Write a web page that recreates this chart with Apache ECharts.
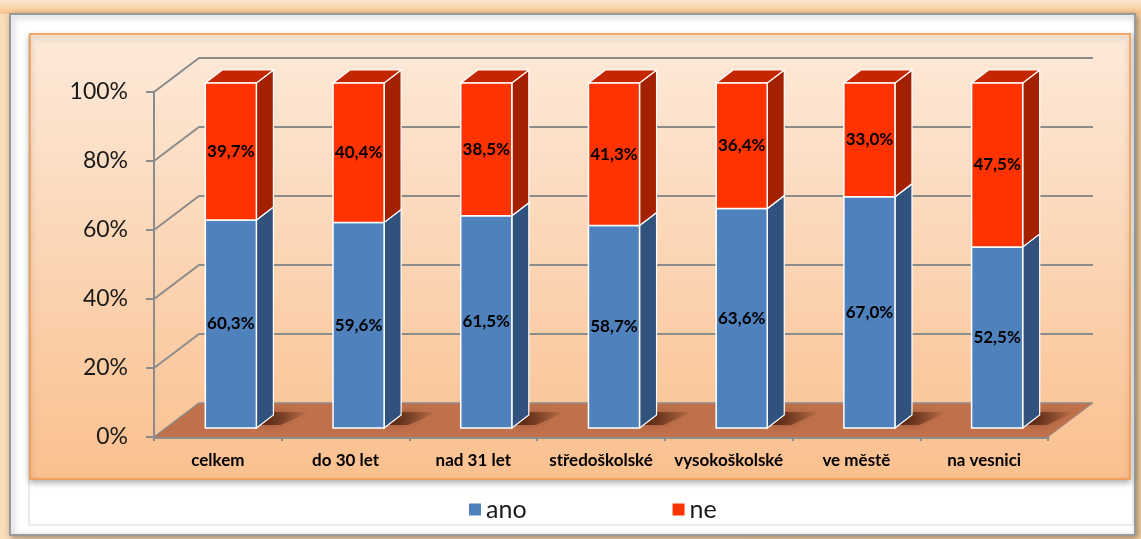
<!DOCTYPE html>
<html><head><meta charset="utf-8">
<script src="https://cdn.jsdelivr.net/npm/echarts@6/dist/echarts.min.js"></script>
<style>html,body{margin:0;padding:0;background:#fff}#c{width:1141px;height:539px}</style>
</head><body><div id="c"></div>
<script>
const categories = ['celkem','do 30 let','nad 31 let','středoškolské','vysokoškolské','ve městě','na vesnici'];
const ano = [60.3, 59.6, 61.5, 58.7, 63.6, 67.0, 52.5];
const ne  = [39.7, 40.4, 38.5, 41.3, 36.4, 33.0, 47.5];
const yTicks = [0, 20, 40, 60, 80, 100];

const FONT = 'Lato, "Open Sans", sans-serif';
const DX = 45, DY = -34;      // wall depth
const BX = 13, BY = -9;       // bar front-face offset into the depth
const BDX = 17, BDY = -13;    // bar depth
const GRID = '#8c8c8c';

function fmt(v){ return v.toFixed(1).replace('.', ',') + '%'; }

function wallItem(params, api){
  const cs = params.coordSys;
  const v = api.value(1);
  const y = api.coord([0, v])[1];
  if (v === 0) {
    return {type:'group', children:[
      {type:'polygon', shape:{points:[[cs.x,y],[cs.x+DX,y+DY],[cs.x+cs.width+DX,y+DY],[cs.x+cs.width,y]]},
        style:{fill:'#C0714B'}},
      {type:'polyline', shape:{points:[[cs.x,y],[cs.x+DX,y+DY],[cs.x+cs.width+DX,y+DY]]},
        style:{stroke:GRID, lineWidth:1.5, fill:null}},
      {type:'polyline', shape:{points:[[cs.x+cs.width,y],[cs.x+cs.width+DX,y+DY]]},
        style:{stroke:'#9a9a9a', lineWidth:1, fill:null}}
    ]};
  }
  return {type:'polyline', shape:{points:[[cs.x,y],[cs.x+DX,y+DY],[cs.x+cs.width+DX,y+DY]]},
    style:{stroke:GRID, lineWidth:2, fill:null}};
}

function barItem(front, side, top, isBottom){
  return function(params, api){
    const i = api.value(0), v = api.value(1), base = api.value(2);
    const c = api.coord([i, 0]);
    const w = api.size([1, 0])[0] * 0.4;
    const cx = c[0] + BX;
    const yb = api.coord([i, base])[1] + BY;
    const yt = api.coord([i, base + v])[1] + BY;
    const x0 = cx - w/2, x1 = cx + w/2;
    const ch = [];
    if (isBottom) {
      ch.push({type:'polygon', shape:{points:[[x1+2,yb-3],[x1+BDX,yb+BDY-3],[x1+BDX+36,yb+BDY-3],[x1+24,yb-3]]},
        style:{fill:new echarts.graphic.LinearGradient(0,0,1,0,[{offset:0,color:'rgba(50,15,0,0.75)'},{offset:1,color:'rgba(50,15,0,0)'}]),
          shadowBlur:8, shadowColor:'rgba(50,15,0,0.5)'}});
    }
    ch.push({type:'polygon', shape:{points:[[x1,yb],[x1,yt],[x1+BDX,yt+BDY],[x1+BDX,yb+BDY]]},
      style:{fill:side, stroke:'#ffffff', lineWidth:1.2}});
    ch.push({type:'polygon', shape:{points:[[x0,yt],[x1,yt],[x1+BDX,yt+BDY],[x0+BDX,yt+BDY]]},
      style:{fill:top, stroke:'#ffffff', lineWidth:1.2}});
    ch.push({type:'rect', shape:{x:x0, y:yt, width:w, height:yb-yt},
      style:{fill:front, stroke:'#ffffff', lineWidth:1.5}});
    ch.push({type:'text', style:{text:fmt(v), x:cx, y:(yb+yt)/2, align:'center', verticalAlign:'middle',
      fontSize:17, fontWeight:'bold', fontFamily:FONT, fill:'#000'}});
    return {type:'group', children:ch};
  };
}

const chart = echarts.init(document.getElementById('c'), null, {renderer:'canvas'});
chart.setOption({
  animation:false,
  backgroundColor:'#ffffff',
  graphic:[
    {type:'rect', z:-21, shape:{x:0,y:0,width:1141,height:539},
      style:{fill:new echarts.graphic.LinearGradient(0,0,1,0,[{offset:0,color:'#FCDDBA'},{offset:1,color:'#FBD3A6'}])}},
    {type:'rect', z:-20, shape:{x:0,y:0,width:1141,height:14},
      style:{fill:new echarts.graphic.LinearGradient(0,0,0,1,[{offset:0,color:'#FDE8D0'},{offset:1,color:'#F9C48A'}])}},
    {type:'rect', z:-19, shape:{x:10,y:14,width:1125,height:521},
      style:{fill:'#ffffff', stroke:'#9a9a9a', lineWidth:2, shadowBlur:6, shadowColor:'rgba(0,0,0,0.35)', shadowOffsetX:2, shadowOffsetY:2}},
    {type:'rect', z:-18, shape:{x:29,y:34,width:1104,height:491},
      style:{fill:'#ffffff', stroke:'#d9d9d9', lineWidth:1}},
    {type:'rect', z:-17, shape:{x:30,y:34,width:1100,height:445},
      style:{fill:new echarts.graphic.LinearGradient(0,0,0,1,[{offset:0,color:'#FDEADA'},{offset:1,color:'#FAC08F'}]),
        stroke:'#F79646', lineWidth:1.5, shadowBlur:6, shadowColor:'rgba(0,0,0,0.3)', shadowOffsetY:3}}
  ],
  grid:{left:154, right:93, top:92, bottom:102},
  legend:{
    data:[{name:'ano', icon:'rect'}, {name:'ne', icon:'rect'}],
    left:464, top:492, itemWidth:12, itemHeight:12, itemGap:146,
    textStyle:{fontSize:25, fontFamily:FONT, color:'#1a1a1a'}
  },
  xAxis:{
    type:'category', data:categories,
    axisLine:{show:true, lineStyle:{color:GRID, width:3}},
    axisTick:{show:true, length:4, alignWithLabel:false, interval:0, lineStyle:{color:GRID, width:2}},
    axisLabel:{interval:0, margin:15, fontSize:17, fontWeight:'bold', fontFamily:FONT, color:'#000'},
    splitLine:{show:false}
  },
  yAxis:{
    type:'value', min:0, max:100, interval:20,
    axisLine:{show:true, lineStyle:{color:GRID, width:2}},
    axisTick:{show:true, length:8, lineStyle:{color:GRID, width:2}},
    axisLabel:{formatter:'{value}%', margin:26, fontSize:23, fontFamily:FONT, color:'#1a1a1a'},
    splitLine:{show:false}
  },
  series:[
    {type:'custom', name:'walls', silent:true, z:1, renderItem:wallItem,
      encode:{x:0, y:1}, data:yTicks.map(v => [0, v])},
    {type:'custom', name:'ano', z:3, itemStyle:{color:'#4F81BD'},
      renderItem:barItem('#4F81BD', '#30527D', '#3D6699', true),
      encode:{x:0, y:1}, data:ano.map((v,i) => [i, v, 0])},
    {type:'custom', name:'ne', z:4, itemStyle:{color:'#FF3300'},
      renderItem:barItem('#FF3300', '#A32000', '#C42600', false),
      encode:{x:0, y:1}, data:ne.map((v,i) => [i, v, ano[i]])}
  ]
});
</script></body></html>
